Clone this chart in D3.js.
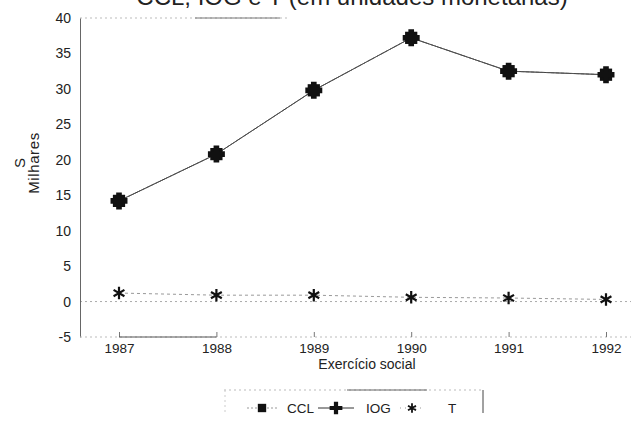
<!DOCTYPE html>
<html>
<head>
<meta charset="utf-8">
<script src="https://cdn.jsdelivr.net/npm/d3@7"></script>
<style>
body { margin: 0; background: #fff; }
text { font-family: "Liberation Sans", Arial, sans-serif; fill: #222; }
</style>
</head>
<body>
<div id="chart"></div>
<script>
var years = [1987, 1988, 1989, 1990, 1991, 1992];
var ccl = [14.2, 20.8, 29.8, 37.2, 32.5, 32.0];
var iog = [14.2, 20.8, 29.8, 37.2, 32.5, 32.0];
var tVals = [1.2, 0.9, 0.9, 0.6, 0.5, 0.3];
var yTicks = [-5, 0, 5, 10, 15, 20, 25, 30, 35, 40];

var size = {w: 631, h: 423};
var plot = {left: 80, right: 631, top: 18, bottom: 337};

var svg = d3.select("#chart").append("svg")
	.attr("width", size.w)
	.attr("height", size.h);

var x = d3.scalePoint().domain(years).range([119, 606]);
var y = d3.scaleLinear().domain([-5, 40]).range([plot.bottom, plot.top]);

// title, cut at the top edge as in the scan
svg.append("text")
	.attr("x", 352).attr("y", 5)
	.attr("text-anchor", "middle")
	.attr("font-size", "24px")
	.text("CCL, IOG e T (em unidades monetárias)");

// frame bits, light like the scan
svg.append("line")
	.attr("x1", plot.left).attr("x2", 290)
	.attr("y1", plot.top).attr("y2", plot.top)
	.attr("stroke", "#bbb").attr("stroke-dasharray", "2,3");
svg.append("line")
	.attr("x1", 195).attr("x2", 280)
	.attr("y1", plot.top).attr("y2", plot.top)
	.attr("stroke", "#777");
svg.append("line")
	.attr("x1", plot.left).attr("x2", plot.right)
	.attr("y1", y(0)).attr("y2", y(0))
	.attr("stroke", "#aaa").attr("stroke-dasharray", "2,3");

// y axis (plain hyphen for -5, like the original)
var yAxis = d3.axisLeft(y).tickValues(yTicks).tickSize(0).tickPadding(9)
	.tickFormat(function(d) { return String(d); });
var gy = svg.append("g").attr("transform", "translate(" + plot.left + ",0)").call(yAxis);
gy.select(".domain").attr("stroke", "#666");
gy.selectAll("text").attr("font-size", "14px").attr("fill", "#222");

// x axis
var xAxis = d3.axisBottom(x).tickSize(-5).tickPadding(6);
var gx = svg.append("g").attr("transform", "translate(0," + plot.bottom + ")").call(xAxis);
gx.select(".domain").attr("d", "M" + plot.left + ",0H" + plot.right)
	.attr("stroke", "#bbb").attr("stroke-dasharray", "2,3");
gx.append("line").attr("x1", x(1987)).attr("x2", x(1988)).attr("stroke", "#555");
gx.selectAll(".tick line").attr("stroke", "#777");
gx.selectAll("text").attr("font-size", "13.5px").attr("fill", "#222");

// axis titles
svg.append("text")
	.attr("transform", "translate(25,163) rotate(-90)")
	.attr("text-anchor", "middle").attr("font-size", "15px")
	.text("S");
svg.append("text")
	.attr("transform", "translate(39,163) rotate(-90)")
	.attr("text-anchor", "middle").attr("font-size", "15px")
	.attr("letter-spacing", "0.6px")
	.text("Milhares");
svg.append("text")
	.attr("x", 367).attr("y", 369)
	.attr("text-anchor", "middle").attr("font-size", "14px")
	.text("Exercício social");

var line = d3.line()
	.x(function(d, i) { return x(years[i]); })
	.y(function(d) { return y(d); });

// T line
svg.append("path").datum(tVals)
	.attr("d", line).attr("fill", "none")
	.attr("stroke", "#999").attr("stroke-width", 1).attr("stroke-dasharray", "3,3");

// CCL / IOG lines
svg.append("path").datum(iog)
	.attr("d", line).attr("fill", "none")
	.attr("stroke", "#333").attr("stroke-width", 1);
svg.append("path").datum(ccl)
	.attr("d", line).attr("fill", "none")
	.attr("stroke", "#555").attr("stroke-width", 1).attr("stroke-dasharray", "4,1");

var square = d3.symbol().type(d3.symbolSquare).size(150);
var cross = d3.symbol().type(d3.symbolCross).size(160);
var star = d3.symbol().type(d3.symbolAsterisk).size(110);

svg.selectAll(".ccl").data(ccl).enter().append("path")
	.attr("class", "ccl")
	.attr("d", square)
	.attr("transform", function(d, i) { return "translate(" + x(years[i]) + "," + y(d) + ")"; })
	.attr("fill", "#111");
svg.selectAll(".iog").data(iog).enter().append("path")
	.attr("class", "iog")
	.attr("d", cross)
	.attr("transform", function(d, i) { return "translate(" + x(years[i]) + "," + y(d) + ")"; })
	.attr("fill", "#111");
svg.selectAll(".tpt").data(tVals).enter().append("path")
	.attr("class", "tpt")
	.attr("d", star)
	.attr("transform", function(d, i) { return "translate(" + x(years[i]) + "," + y(d) + ")"; })
	.attr("fill", "#111").attr("stroke", "#111").attr("stroke-width", 2.2);

// legend
var lg = svg.append("g");
lg.append("line").attr("x1", 224).attr("x2", 483).attr("y1", 390).attr("y2", 390)
	.attr("stroke", "#bbb").attr("stroke-dasharray", "2,3");
lg.append("line").attr("x1", 347).attr("x2", 427).attr("y1", 390).attr("y2", 390)
	.attr("stroke", "#666");
lg.append("line").attr("x1", 483).attr("x2", 483).attr("y1", 390).attr("y2", 413)
	.attr("stroke", "#444");
lg.append("line").attr("x1", 225).attr("x2", 225).attr("y1", 390).attr("y2", 415)
	.attr("stroke", "#ccc").attr("stroke-dasharray", "2,3");

var legendItems = [
	{name: "CCL", sym: d3.symbol().type(d3.symbolSquare).size(70), cx: 262, half: 15, tx: 287, dash: "2,2", sw: 0},
	{name: "IOG", sym: d3.symbol().type(d3.symbolCross).size(90), cx: 336, half: 18, tx: 366, dash: null, sw: 0},
	{name: "T", sym: d3.symbol().type(d3.symbolAsterisk).size(60), cx: 412, half: 12, tx: 448, dash: "1,4", sw: 1.8}
];
legendItems.forEach(function(it) {
	lg.append("line").attr("x1", it.cx - it.half).attr("x2", it.cx + it.half).attr("y1", 408).attr("y2", 408)
		.attr("stroke", it.dash ? "#999" : "#333").attr("stroke-dasharray", it.dash);
	lg.append("path").attr("d", it.sym)
		.attr("transform", "translate(" + it.cx + ",408)")
		.attr("fill", "#111").attr("stroke", "#111").attr("stroke-width", it.sw);
	lg.append("text").attr("x", it.tx).attr("y", 413).attr("font-size", "13.5px").text(it.name);
});
</script>
</body>
</html>
